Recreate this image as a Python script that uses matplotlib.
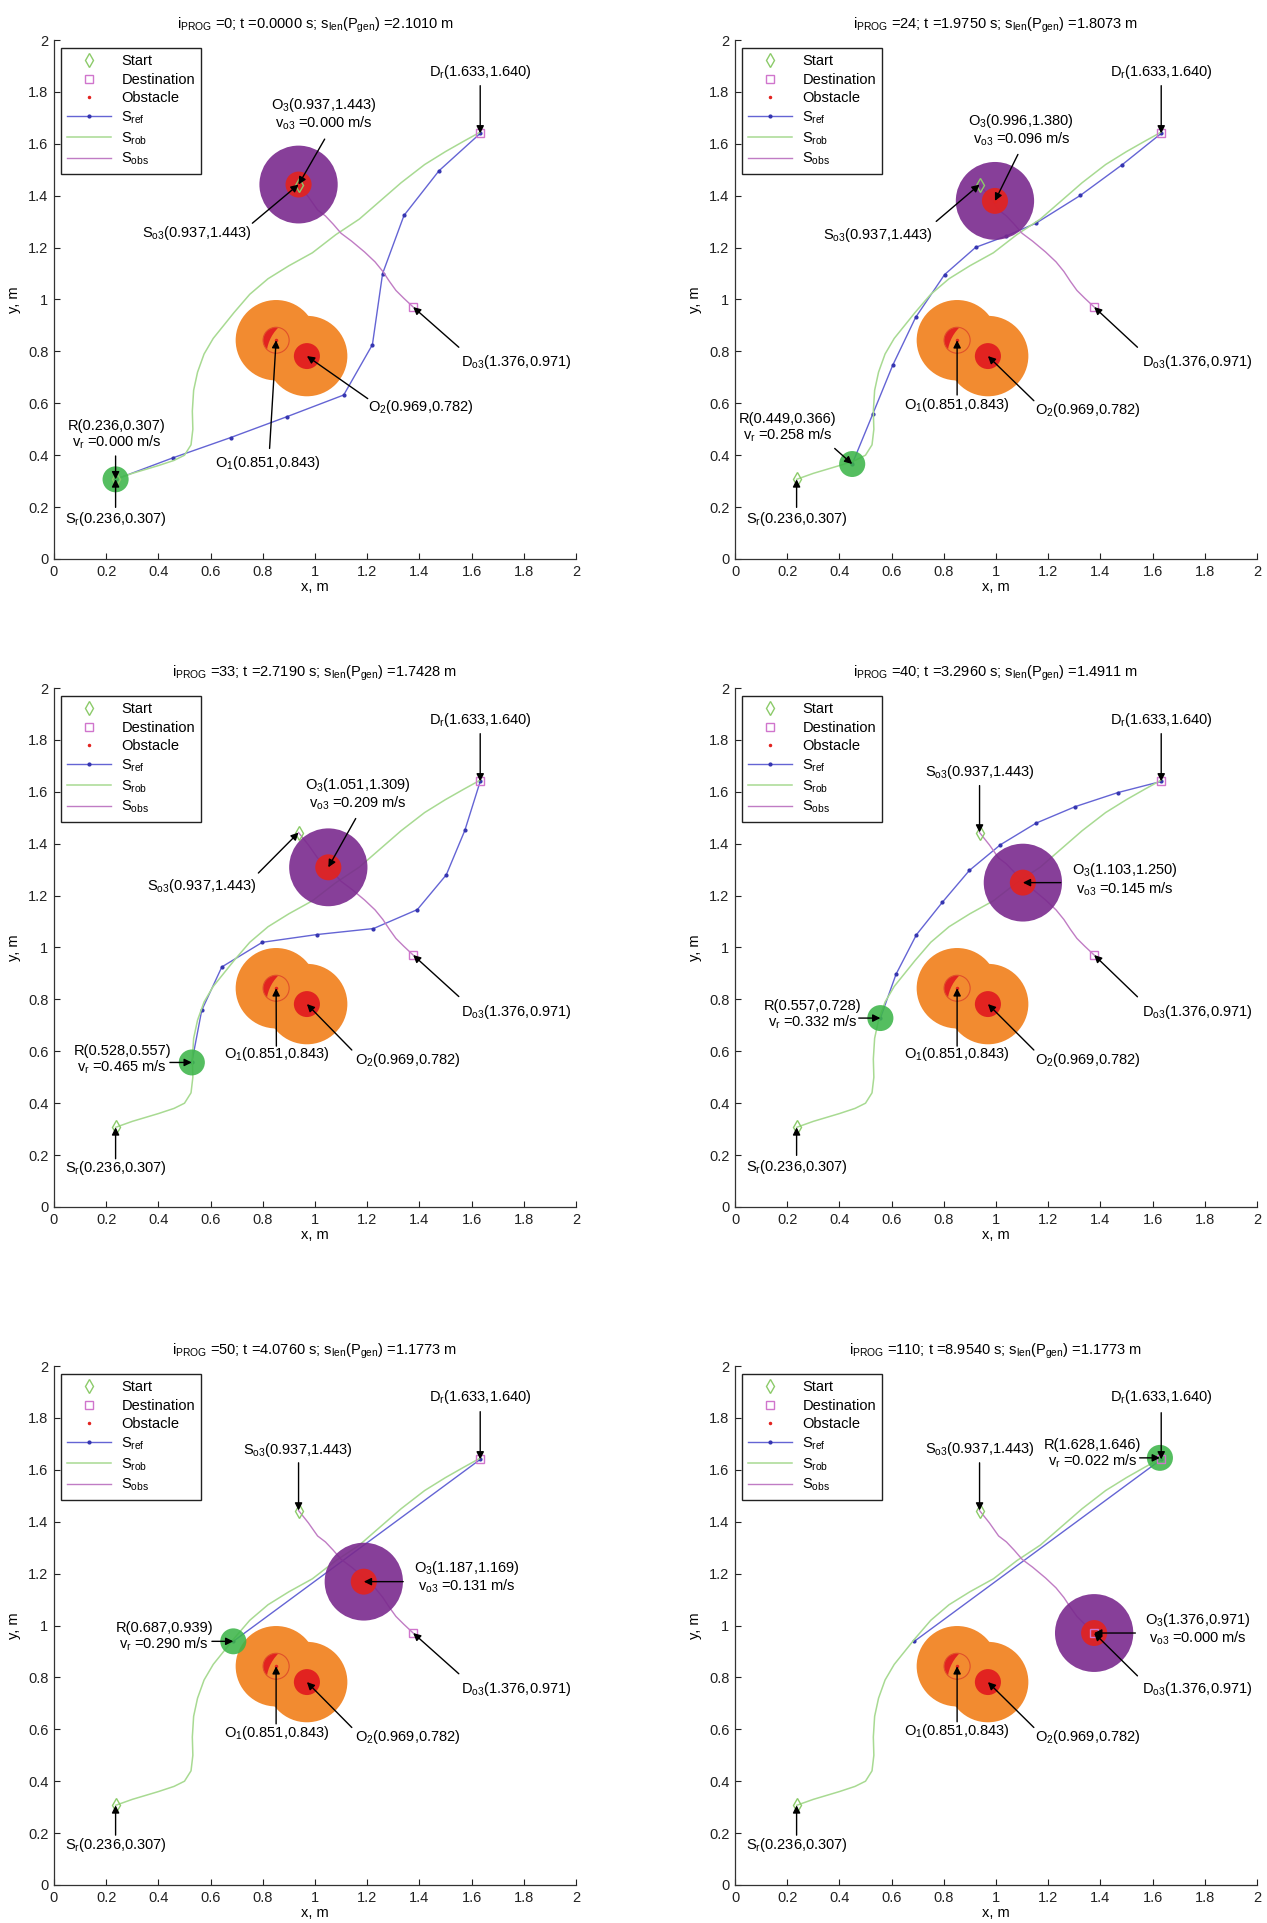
import numpy as np
import matplotlib.pyplot as plt
from matplotlib.patches import Circle
from matplotlib.ticker import MultipleLocator

plt.rcParams['font.family'] = ['Liberation Sans', 'DejaVu Sans']
plt.rcParams['mathtext.fontset'] = 'custom'
plt.rcParams['mathtext.rm'] = 'Liberation Sans'
plt.rcParams['mathtext.it'] = 'Liberation Sans'
plt.rcParams['mathtext.default'] = 'regular'
plt.rcParams['font.size'] = 10.5

# ---- data ----
i_prog = [0, 24, 33, 40, 50, 110]
t_sec = [0.0, 1.975, 2.719, 3.296, 4.076, 8.954]
s_len = [2.1010, 1.8073, 1.7428, 1.4911, 1.1773, 1.1773]

robot_xy = [(0.236, 0.307), (0.449, 0.366), (0.528, 0.557),
            (0.557, 0.728), (0.687, 0.939), (1.628, 1.646)]
v_r = [0.000, 0.258, 0.465, 0.332, 0.290, 0.022]
o3_xy = [(0.937, 1.443), (0.996, 1.380), (1.051, 1.309),
         (1.103, 1.250), (1.187, 1.169), (1.376, 0.971)]
v_o3 = [0.000, 0.096, 0.209, 0.145, 0.131, 0.000]

start_r = (0.236, 0.307)
dest_r = (1.633, 1.640)
start_o3 = (0.937, 1.443)
dest_o3 = (1.376, 0.971)
o1_xy = (0.851, 0.843)
o2_xy = (0.969, 0.782)

# reference path S_ref for each snapshot
ref_x = [
    [0.236, 0.456, 0.677, 0.894, 1.110, 1.220, 1.259, 1.341, 1.475, 1.633],
    [0.449, 0.528, 0.604, 0.692, 0.803, 0.922, 1.040, 1.153, 1.323, 1.483, 1.633],
    [0.528, 0.566, 0.643, 0.798, 1.008, 1.224, 1.392, 1.503, 1.574, 1.633],
    [0.557, 0.617, 0.695, 0.795, 0.898, 1.017, 1.153, 1.304, 1.467, 1.633],
    [0.687, 1.633],
    [0.687, 1.633],
]
ref_y = [
    [0.307, 0.390, 0.468, 0.549, 0.632, 0.826, 1.100, 1.324, 1.496, 1.640],
    [0.366, 0.559, 0.746, 0.931, 1.096, 1.201, 1.245, 1.294, 1.401, 1.519, 1.640],
    [0.557, 0.758, 0.925, 1.020, 1.050, 1.073, 1.146, 1.280, 1.451, 1.640],
    [0.728, 0.897, 1.049, 1.175, 1.297, 1.396, 1.479, 1.543, 1.597, 1.640],
    [0.939, 1.640],
    [0.939, 1.640],
]

# robot trajectory S_rob
rob_x = [0.236, 0.300, 0.400, 0.460, 0.500, 0.525, 0.532, 0.530, 0.535, 0.550,
         0.575, 0.610, 0.650, 0.690, 0.750, 0.820, 0.900, 0.990, 1.080, 1.170,
         1.250, 1.330, 1.420, 1.500, 1.570, 1.633]
rob_y = [0.307, 0.330, 0.360, 0.380, 0.400, 0.440, 0.500, 0.570, 0.650, 0.720,
         0.790, 0.850, 0.900, 0.950, 1.020, 1.080, 1.130, 1.180, 1.250, 1.310,
         1.380, 1.450, 1.520, 1.570, 1.610, 1.645]

# obstacle trajectory S_obs
obs_x = [0.937, 0.975, 1.010, 1.040, 1.070, 1.100, 1.140, 1.190, 1.230, 1.260,
         1.285, 1.310, 1.340, 1.376]
obs_y = [1.443, 1.395, 1.345, 1.322, 1.290, 1.255, 1.225, 1.183, 1.145, 1.108,
         1.070, 1.035, 1.005, 0.971]

# ---- annotation layout: (text x, text y, arrow tail x, arrow tail y) ----
layout = [
    dict(Dr=(1.632, 1.878, 1.633, 1.824), O3=(1.035, 1.715, 1.037, 1.618),
         So3=(0.548, 1.257, 0.760, 1.294), Do3=(1.772, 0.760, 1.551, 0.816),
         O1=(0.821, 0.371, 0.826, 0.426), O2=(1.407, 0.584, 1.202, 0.618),
         R=(0.240, 0.478, 0.236, 0.397), Sr=(0.236, 0.154, 0.236, 0.199)),
    dict(Dr=(1.634, 1.878, 1.633, 1.824), O3=(1.097, 1.652, 1.084, 1.559),
         So3=(0.548, 1.247, 0.771, 1.301), Do3=(1.773, 0.760, 1.542, 0.816),
         O1=(0.851, 0.593, 0.851, 0.632), O2=(1.351, 0.574, 1.145, 0.610),
         R=(0.203, 0.503, 0.382, 0.426), Sr=(0.238, 0.154, 0.236, 0.199)),
    dict(Dr=(1.632, 1.878, 1.633, 1.824), O3=(1.163, 1.593, 1.156, 1.497),
         So3=(0.566, 1.238, 0.783, 1.287), Do3=(1.772, 0.753, 1.551, 0.811),
         O1=(0.852, 0.590, 0.852, 0.620), O2=(1.354, 0.567, 1.141, 0.605),
         R=(0.261, 0.565, 0.444, 0.557), Sr=(0.236, 0.151, 0.236, 0.186)),
    dict(Dr=(1.634, 1.878, 1.633, 1.824), O3=(1.494, 1.262, 1.248, 1.250),
         So3=(0.938, 1.677, 0.937, 1.624), Do3=(1.773, 0.752, 1.542, 0.810),
         O1=(0.851, 0.590, 0.851, 0.620), O2=(1.351, 0.566, 1.145, 0.605),
         R=(0.298, 0.739, 0.474, 0.728), Sr=(0.238, 0.154, 0.236, 0.199)),
    dict(Dr=(1.632, 1.879, 1.633, 1.824), O3=(1.581, 1.186, 1.338, 1.169),
         So3=(0.935, 1.675, 0.937, 1.627), Do3=(1.772, 0.757, 1.551, 0.814),
         O1=(0.852, 0.584, 0.851, 0.621), O2=(1.354, 0.570, 1.141, 0.607),
         R=(0.422, 0.955, 0.605, 0.939), Sr=(0.236, 0.155, 0.236, 0.192)),
    dict(Dr=(1.634, 1.879, 1.633, 1.820), O3=(1.773, 0.986, 1.534, 0.971),
         So3=(0.938, 1.682, 0.937, 1.627), Do3=(1.773, 0.757, 1.542, 0.806),
         O1=(0.851, 0.592, 0.851, 0.629), O2=(1.351, 0.570, 1.145, 0.607),
         R=(1.371, 1.660, 1.550, 1.646), Sr=(0.238, 0.155, 0.236, 0.192)),
]

c_orange = '#F28B30'
c_red = '#E22320'
c_purple = '#7A2A8E'
c_green = '#3DB54A'
c_ref = '#6464D4'
c_rob = '#A8DA92'
c_obs = '#C07CC4'
c_start = '#8CCB6A'
c_dest = '#D075CC'

fig = plt.figure(figsize=(12.67, 19.23), dpi=100)
W, H = 1267.0, 1923.0
lefts = [54, 735]
tops = [40, 688, 1366]
aw, ah = 522, 519


def arrow(ax, tail, head):
    ax.annotate('', xy=head, xytext=tail,
                arrowprops=dict(arrowstyle='-|>', color='k', lw=1.0,
                                mutation_scale=11, shrinkA=0, shrinkB=0),
                zorder=8)


def label(ax, key, lay, text, head):
    tx, ty, ax_, ay_ = lay[key]
    ax.text(tx, ty, text, ha='center', va='center', linespacing=1.05, zorder=9)
    arrow(ax, (ax_, ay_), head)


def fmt(v, p):
    return '0' if abs(v) < 1e-9 else ('%.1f' % v).rstrip('0').rstrip('.')


for k in range(6):
    row, col = k // 2, k % 2
    ax = fig.add_axes([lefts[col] / W, 1 - (tops[row] + ah) / H, aw / W, ah / H])
    lay = layout[k]
    rx, ry = robot_xy[k]
    ox, oy = o3_xy[k]

    # paths
    ax.plot(ref_x[k], ref_y[k], color=c_ref, lw=1.0, marker='.', ms=4,
            mfc='#3535B0', mec='#3535B0', zorder=2, label='S$_{ref}$')
    ax.plot(rob_x, rob_y, color=c_rob, lw=1.1, zorder=2, label='S$_{rob}$')
    ax.plot(obs_x, obs_y, color=c_obs, lw=1.0, zorder=2, label='S$_{obs}$')

    # static obstacles
    ax.add_patch(Circle(o1_xy, 0.155, color=c_orange, ec='none', zorder=3.0))
    ax.add_patch(Circle(o1_xy, 0.05, color=c_red, ec='none', zorder=3.1))
    ax.add_patch(Circle(o2_xy, 0.155, color=c_orange, ec='none', zorder=3.2))
    ax.add_patch(Circle(o2_xy, 0.05, color=c_red, ec='none', zorder=3.3))
    ax.add_patch(Circle(o1_xy, 0.05, fill=False, ec='#E0502A', lw=0.8, zorder=3.4))

    # moving obstacle and robot
    ax.add_patch(Circle((ox, oy), 0.15, color=c_purple, ec='none', alpha=0.9, zorder=3.5))
    ax.add_patch(Circle((ox, oy), 0.05, color=c_red, ec='none', alpha=0.92, zorder=3.6))
    ax.add_patch(Circle((rx, ry), 0.05, color=c_green, ec='none', alpha=0.88, zorder=3.7))

    # markers
    ax.plot([start_r[0], start_o3[0]], [start_r[1], start_o3[1]], ls='none',
            marker='d', ms=7, mfc='none', mec=c_start, mew=1.0, zorder=5, label='Start')
    ax.plot([dest_r[0], dest_o3[0]], [dest_r[1], dest_o3[1]], ls='none',
            marker='s', ms=5.5, mfc='none', mec=c_dest, mew=1.0, zorder=5, label='Destination')
    ax.plot([o1_xy[0], o2_xy[0], ox], [o1_xy[1], o2_xy[1], oy], ls='none',
            marker='.', ms=3, color=c_red, zorder=5, label='Obstacle')

    # annotations
    label(ax, 'Dr', lay, 'D$_r$(%.3f,%.3f)' % dest_r, dest_r)
    label(ax, 'O3', lay, 'O$_3$(%.3f,%.3f)\nv$_{o3}$ =%.3f m/s' % (ox, oy, v_o3[k]), (ox, oy))
    label(ax, 'So3', lay, 'S$_{o3}$(%.3f,%.3f)' % start_o3, start_o3)
    label(ax, 'Do3', lay, 'D$_{o3}$(%.3f,%.3f)' % dest_o3, dest_o3)
    label(ax, 'O1', lay, 'O$_1$(%.3f,%.3f)' % o1_xy, o1_xy)
    label(ax, 'O2', lay, 'O$_2$(%.3f,%.3f)' % o2_xy, o2_xy)
    label(ax, 'R', lay, 'R(%.3f,%.3f)\nv$_r$ =%.3f m/s' % (rx, ry, v_r[k]), (rx, ry))
    label(ax, 'Sr', lay, 'S$_r$(%.3f,%.3f)' % start_r, start_r)

    ax.set_xlim(0, 2)
    ax.set_ylim(0, 2)
    ax.xaxis.set_major_locator(MultipleLocator(0.2))
    ax.yaxis.set_major_locator(MultipleLocator(0.2))
    ax.xaxis.set_major_formatter(plt.FuncFormatter(fmt))
    ax.yaxis.set_major_formatter(plt.FuncFormatter(fmt))
    ax.tick_params(direction='in', length=4, width=0.8, colors='#222222', pad=4)
    for s in ['top', 'right']:
        ax.spines[s].set_visible(False)
    for s in ['left', 'bottom']:
        ax.spines[s].set_color('#333333')
        ax.spines[s].set_linewidth(0.9)
    ax.set_xlabel('x, m', labelpad=1)
    ax.set_ylabel('y, m', labelpad=5)
    ax.set_title('$i_{PROG}$ =%d; t =%.4f s; $s_{len}$($P_{gen}$) =%.4f m'
                 % (i_prog[k], t_sec[k], s_len[k]), pad=8, fontsize=10.5)

    handles, labels = ax.get_legend_handles_labels()
    order = ['Start', 'Destination', 'Obstacle', 'S$_{ref}$', 'S$_{rob}$', 'S$_{obs}$']
    hmap = dict(zip(labels, handles))
    leg = ax.legend([hmap[o] for o in order], order, loc='upper left',
                    bbox_to_anchor=(0.013, 0.985), borderaxespad=0, fancybox=False,
                    edgecolor='#222222', framealpha=1, numpoints=1,
                    handlelength=3.0, handletextpad=0.7, labelspacing=0.3,
                    borderpad=0.45, fontsize=10.5)
    leg.get_frame().set_linewidth(1.0)
    leg.set_zorder(10)

fig.savefig('out.png', dpi=100)
